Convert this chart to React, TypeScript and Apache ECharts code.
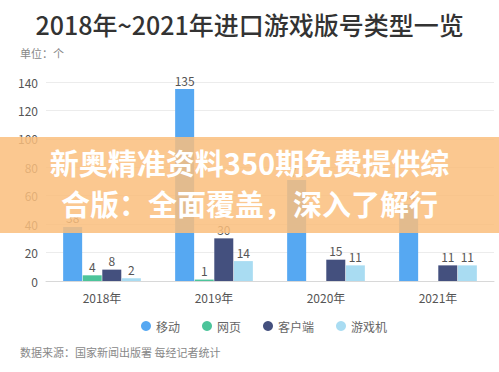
import React, { useEffect, useRef } from "react";
import * as echarts from "echarts";

const categories = ["2018年", "2019年", "2020年", "2021年"];
const mobile = [38, 135, 71, 54];
const web = [4, 1, 0, 0];
const client = [8, 30, 15, 11];
const consoleGames = [2, 14, 11, 11];
const seriesNames = ["移动", "网页", "客户端", "游戏机"];
const colors = ["#56a8f2", "#4cc49a", "#44507e", "#a9dcf2"];
const yTicks = { min: 0, max: 140, interval: 20 };
const bannerLines = ["新奥精准资料350期免费提供综", "合版：全面覆盖，深入了解行"];

const FONT = '"Noto Sans CJK SC", "Noto Sans", sans-serif';

export default function App() {
  const ref = useRef<HTMLDivElement>(null);
  useEffect(() => {
    if (!ref.current) return;
    const chart = echarts.init(ref.current, undefined, { renderer: "svg" });
    const dataSets = [mobile, web, client, consoleGames];
    chart.setOption({
      animation: false,
      backgroundColor: "#ffffff",
      textStyle: { fontFamily: FONT },
      title: [
        {
          text: "2018年~2021年进口游戏版号类型一览",
          left: "center",
          top: 6,
          textStyle: { fontSize: 25, fontWeight: 500, color: "#333", fontFamily: FONT },
        },
        {
          text: "单位：个",
          left: 15,
          top: 42,
          textStyle: { fontSize: 11, fontWeight: "normal", color: "#888", fontFamily: FONT },
        },
        {
          text: "数据来源：国家新闻出版署 每经记者统计",
          left: 15,
          top: 341,
          textStyle: { fontSize: 11, fontWeight: "normal", color: "#888", fontFamily: FONT },
        },
      ],
      legend: {
        data: seriesNames,
        top: 315,
        left: 136,
        icon: "circle",
        itemWidth: 10,
        itemHeight: 10,
        itemGap: 22,
        textStyle: { fontSize: 12, color: "#666", fontFamily: FONT },
      },
      grid: { left: 46, right: 5, top: 82, bottom: 91 },
      xAxis: {
        type: "category",
        data: categories,
        axisTick: { show: false },
        axisLine: { lineStyle: { color: "#d8d8d8" } },
        axisLabel: { fontSize: 12, color: "#555", margin: 10, fontFamily: FONT },
      },
      yAxis: {
        type: "value",
        min: yTicks.min,
        max: yTicks.max,
        interval: yTicks.interval,
        axisLine: { show: false },
        axisTick: { show: false },
        splitLine: { lineStyle: { color: "#ececec" } },
        axisLabel: { fontSize: 12, color: "#555", margin: 8, fontFamily: FONT },
      },
      series: seriesNames.map((name, i) => ({
        name,
        type: "bar",
        data: dataSets[i],
        barWidth: 19,
        barGap: "3%",
        itemStyle: { color: colors[i] },
        label: {
          show: true,
          position: "top",
          fontSize: 12,
          color: "#555",
          distance: 3,
          fontFamily: FONT,
          formatter: (p: any) => (p.value === 0 ? "" : String(p.value)),
        },
      })),
      graphic: [
        {
          type: "rect",
          left: 0,
          top: 137,
          z: 100,
          shape: { width: 499, height: 96 },
          style: { fill: "rgba(250, 190, 125, 0.85)" },
        },
        {
          type: "text",
          left: "center",
          top: 147,
          z: 101,
          style: {
            text: bannerLines[0],
            fill: "#ffffff",
            font: 'bold 29px "Noto Sans CJK SC", sans-serif',
          },
        },
        {
          type: "text",
          left: "center",
          top: 188,
          z: 101,
          style: {
            text: bannerLines[1],
            fill: "#ffffff",
            font: 'bold 29px "Noto Sans CJK SC", sans-serif',
          },
        },
      ],
    });
    return () => chart.dispose();
  }, []);
  return <div ref={ref} style={{ width: 499, height: 372, position: "absolute", left: 0, top: 0 }} />;
}
